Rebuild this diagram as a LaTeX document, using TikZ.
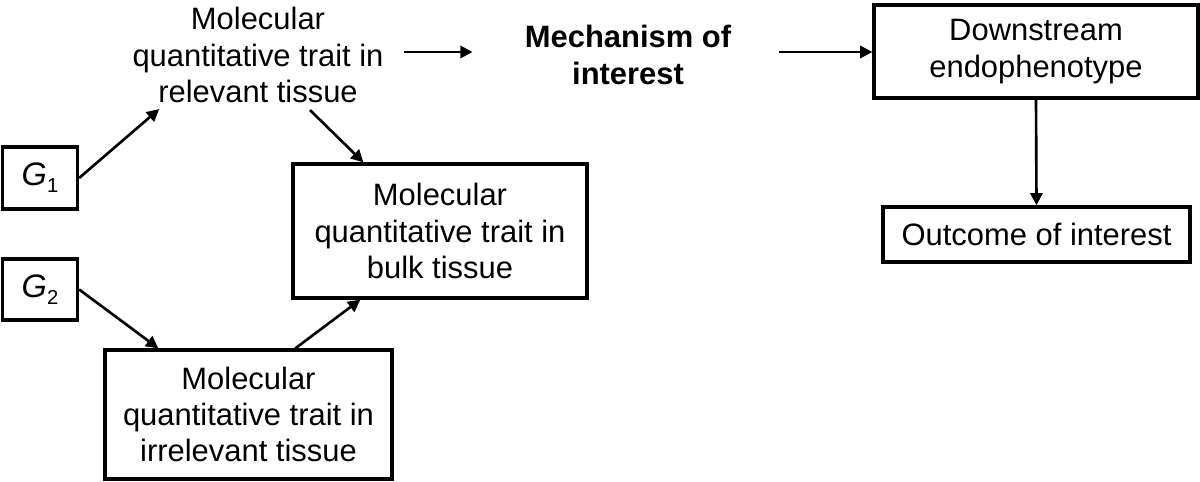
\documentclass[tikz,border=0pt]{standalone}
\usepackage{fontspec}
\setmainfont{Liberation Sans}
\usetikzlibrary{positioning,arrows.meta,calc}

\newcommand{\gsub}[1]{{\fontsize{18.5}{18.5}\selectfont\textit{G}}\raisebox{-4pt}{\fontsize{11.5}{11.5}\selectfont #1}}

\begin{document}
\begin{tikzpicture}[x=0.02cm, y=-0.02cm,
        tbox/.style={draw, line width=1.9pt, align=center, inner sep=0pt,
                     font=\fontsize{17.6}{20.7}\selectfont},
        ttext/.style={align=center, inner sep=0pt, font=\fontsize{17.6}{20.7}\selectfont},
        arr/.style={-{Triangle[length=7pt,width=7pt]}, line width=1.5pt}
    ]
    \useasboundingbox (0,0) rectangle (1200,482);
    % left part
    \node[tbox, minimum width=1.5cm, minimum height=1.24cm] (g1) at (40,178) {\gsub{1}};
    \node[tbox, minimum width=1.5cm, minimum height=1.22cm] (g2) at (40,289.5) {\gsub{2}};
    \node[ttext] (rel) at (258,55) {Molecular\\quantitative trait in\\relevant tissue};
    \node[tbox, minimum width=5.88cm, minimum height=2.68cm] (bulk) at (440,231) {Molecular\\quantitative trait in\\bulk tissue};
    \node[tbox, minimum width=5.74cm, minimum height=2.58cm] (irr) at (248.5,414.5) {Molecular\\quantitative trait in\\irrelevant tissue};
    % right part
    \node[ttext, font=\fontsize{17.6}{20.7}\selectfont\bfseries] (mech) at (628,55) {Mechanism of\\interest};
    \node[tbox, minimum width=6.48cm, minimum height=1.86cm] (down) at (1036,51.5) {Downstream\\endophenotype};
    \node[tbox, minimum width=6.14cm, minimum height=1.1cm] (out) at (1036.5,234.5) {Outcome of interest};
    \coordinate (mid) at (0,52);
    % arrows
    \draw[arr] (g1.east) -- ($(rel.south west)+(27,6)$);
    \draw[arr] ($(rel.south)+(52,7)$) -- ($(bulk.north west)+(72,0)$);
    \draw[arr] (g2.east) -- ($(irr.north west)+(55,0)$);
    \draw[arr] ($(irr.north west)+(192,0)$) -- ($(bulk.south west)+(69,0)$);
    \draw[arr, shorten <=0.4cm, shorten >=1.04cm] (mid -| rel.east) -- (mid -| mech.west);
    \draw[arr, shorten <=0.96cm] (mid -| mech.east) -- (mid -| down.west);
    \draw[arr] (down.south) -- (out.north);
\end{tikzpicture}
\end{document}
